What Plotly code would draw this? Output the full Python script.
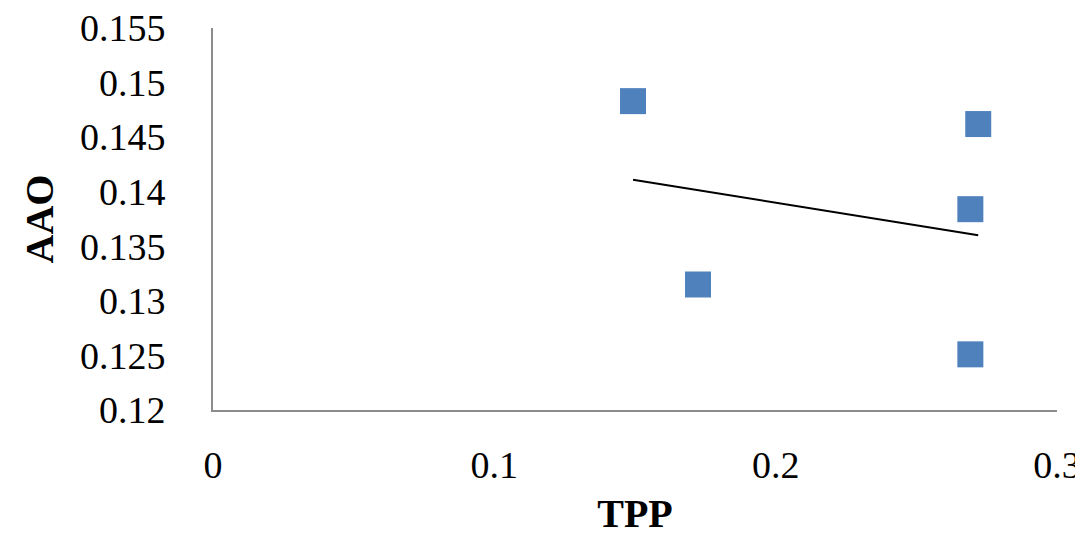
import numpy as np
import plotly.graph_objects as go

# Data
tpp = [0.1493, 0.2720, 0.2692, 0.1724, 0.2692]
aao = [0.1483, 0.1462, 0.1384, 0.1315, 0.1251]

x_ticks = [0, 0.1, 0.2, 0.3]
x_tick_text = ["0", "0.1", "0.2", "0.3"]
y_ticks = [0.12, 0.125, 0.13, 0.135, 0.14, 0.145, 0.15, 0.155]
y_tick_text = ["0.12", "0.125", "0.13", "0.135", "0.14", "0.145", "0.15", "0.155"]

# Linear trendline (least squares) over data x-range
slope, intercept = np.polyfit(tpp, aao, 1)
tx = [min(tpp), max(tpp)]
ty = [slope * v + intercept for v in tx]

font_family = "Liberation Serif, Times New Roman, serif"

fig = go.Figure()
fig.add_trace(go.Scatter(
    x=tx, y=ty, mode="lines",
    line=dict(color="black", width=2),
    showlegend=False, hoverinfo="skip",
))
fig.add_trace(go.Scatter(
    x=tpp, y=aao, mode="markers",
    marker=dict(symbol="square", size=26, color="#4F81BD",
                line=dict(width=0)),
    showlegend=False,
))

fig.update_layout(
    width=1075, height=532,
    margin=dict(l=205, r=26, t=20, b=130),
    paper_bgcolor="white", plot_bgcolor="white",
    font=dict(family=font_family, color="black", size=38),
    xaxis=dict(
        range=[0, 0.3], tickvals=x_ticks, ticktext=x_tick_text,
        showgrid=False, zeroline=False,
        showline=True, linecolor="#8C8C8C", linewidth=2,
        ticks="", ticklabelstandoff=20, ticklabeloverflow="allow",
        tickfont=dict(size=38, family=font_family),
        title=dict(text="<b>TPP</b>", font=dict(size=40, family=font_family), standoff=14),
        automargin=False,
    ),
    yaxis=dict(
        range=[0.12, 0.155], tickvals=y_ticks, ticktext=y_tick_text,
        showgrid=False, zeroline=False,
        showline=True, linecolor="#8C8C8C", linewidth=2,
        ticks="", ticklabelstandoff=38, ticklabeloverflow="allow",
        tickfont=dict(size=38, family=font_family),
        title=dict(text="<b>AAO</b>", font=dict(size=40, family=font_family), standoff=14),
        automargin=False,
    ),
)

fig.write_html("out.html")
